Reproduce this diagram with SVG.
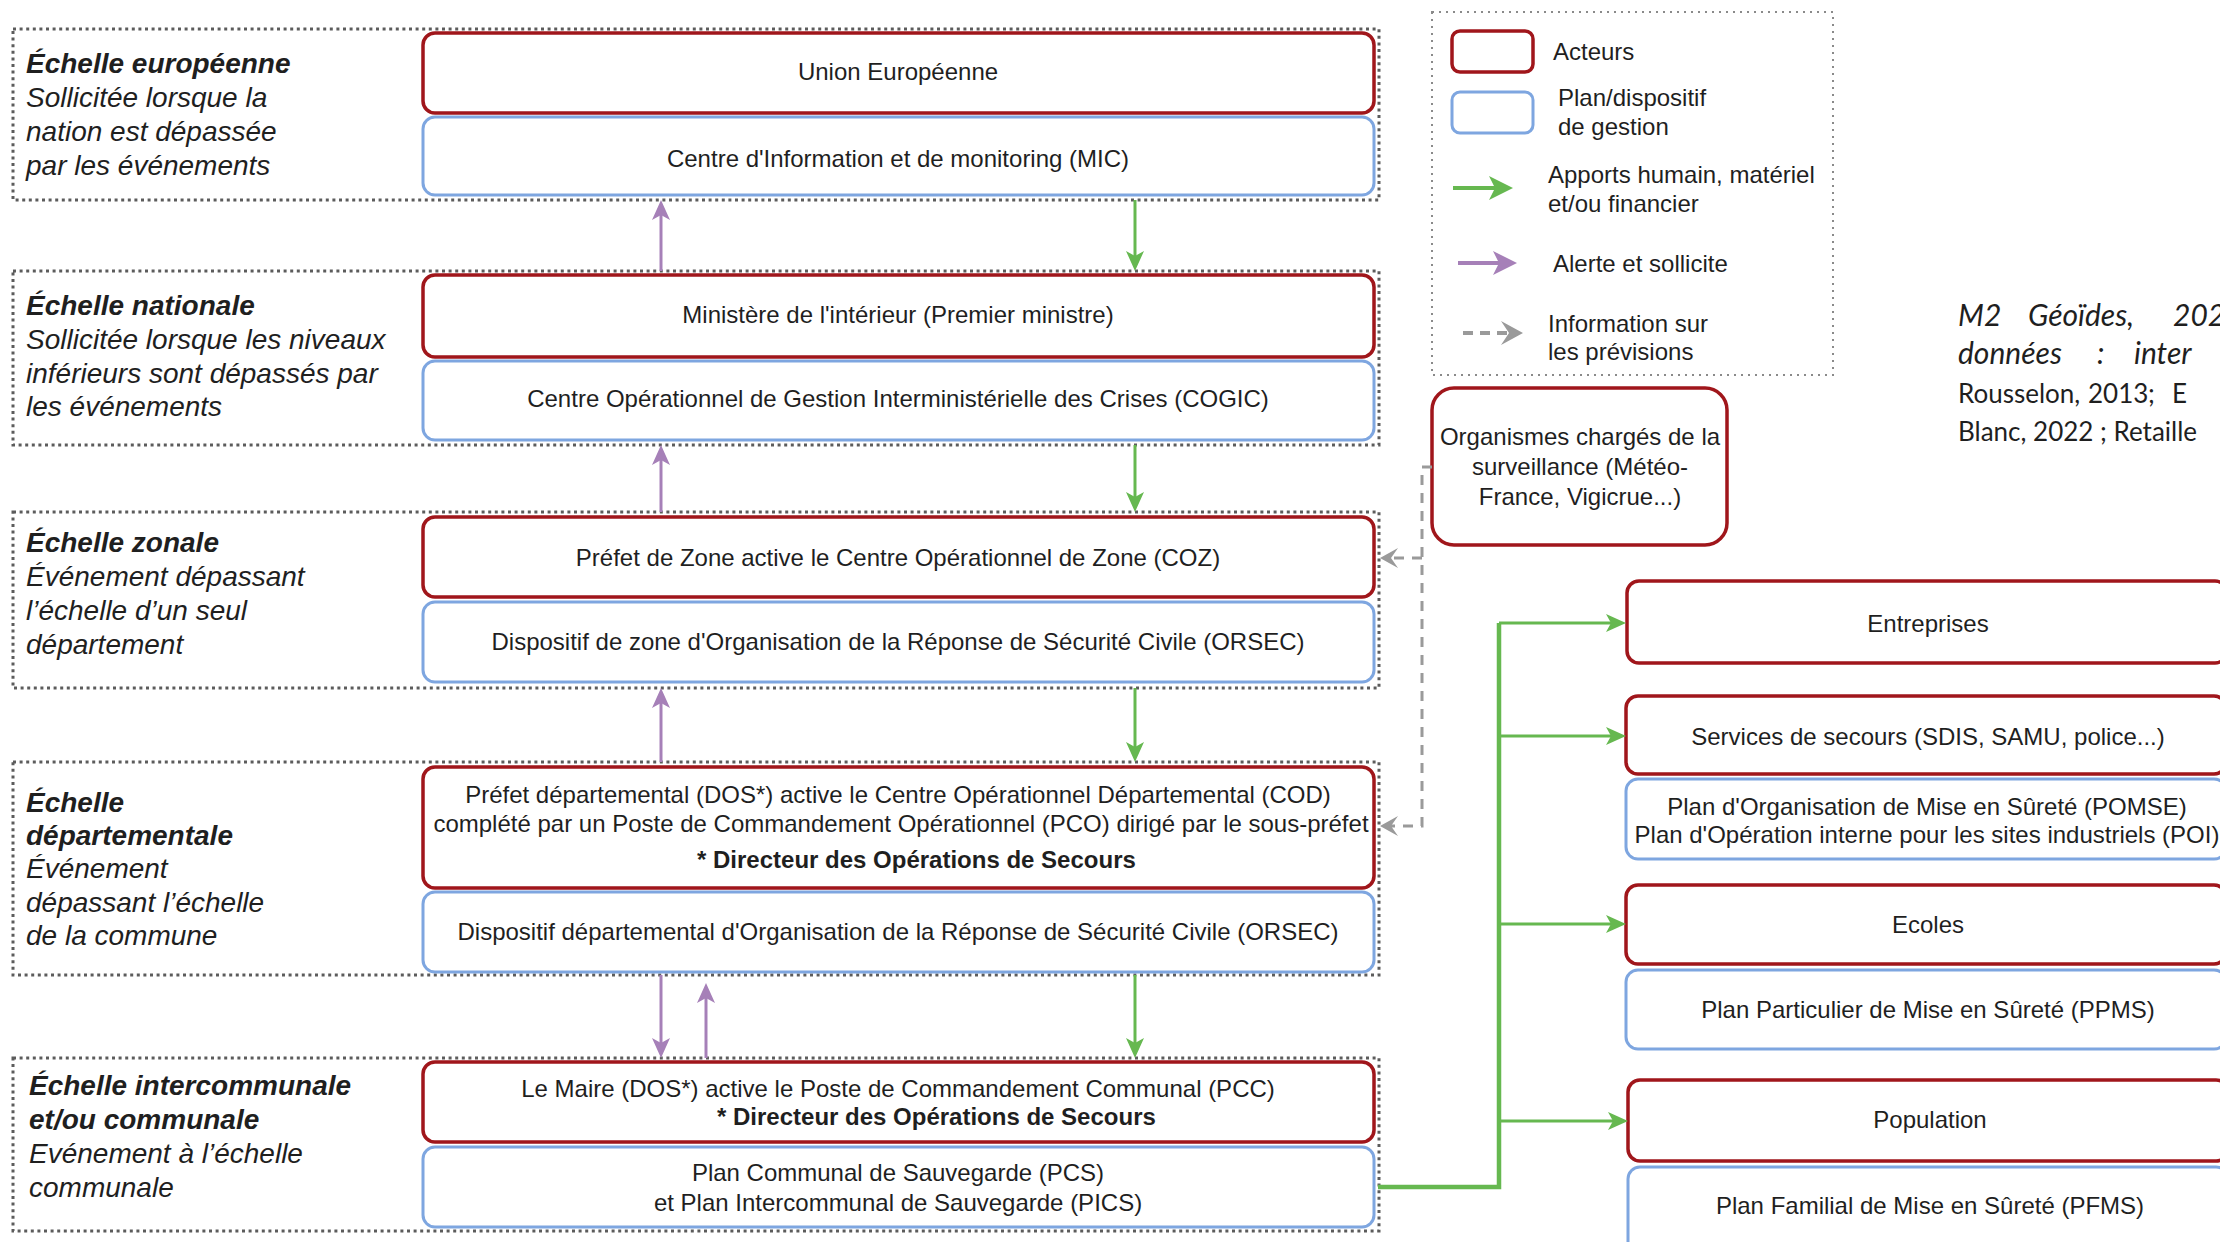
<svg xmlns="http://www.w3.org/2000/svg" width="2220" height="1242" viewBox="0 0 2220 1242">
  <style>
    .grp { fill: none; stroke: #5c5c5c; stroke-width: 3; stroke-dasharray: 3 3.6; }
    .legend-frame { fill: none; stroke: #8a8a8a; stroke-width: 2; stroke-dasharray: 2 5; }
    .actor { fill: #ffffff; stroke: #A0161B; stroke-width: 3.5; }
    .plan { fill: #ffffff; stroke: #7EA6E0; stroke-width: 3; }
    .t { font-family: "Liberation Sans", Arial, sans-serif; font-size: 24px; fill: #1f1f1f; }
    .c { text-anchor: middle; }
    .b { font-weight: bold; }
    .lt { font-family: "Liberation Sans", Arial, sans-serif; font-size: 28px; font-style: italic; fill: #1f1f1f; }
    .lt .h { font-weight: bold; }
    .alert { fill: none; stroke: #A680B8; stroke-width: 3; marker-end: url(#head-alert); }
    .supply { fill: none; stroke: #66B850; stroke-width: 3; marker-end: url(#head-supply); }
    .trunk { fill: none; stroke: #66B850; stroke-width: 4.5; }
    .info { fill: none; stroke: #9a9a9a; stroke-width: 3; stroke-dasharray: 10 8; }
    .info-end { marker-end: url(#head-info); }
    .key-supply { fill: none; stroke: #66B850; stroke-width: 4; marker-end: url(#key-head-supply); }
    .key-alert { fill: none; stroke: #A680B8; stroke-width: 4; marker-end: url(#key-head-alert); }
    .key-info { fill: none; stroke: #9a9a9a; stroke-width: 4; stroke-dasharray: 10 7; marker-end: url(#key-head-info); }
    .cite { font-family: Lato, "Open Sans", sans-serif; font-size: 26px; fill: #1f1f1f; }
    .cite-i { font-family: Lato, "Open Sans", sans-serif; font-size: 30px; font-style: italic; fill: #1f1f1f; }
  </style>
  <defs>
    <marker id="head-alert" viewBox="0 0 20 18" refX="14" refY="9" markerWidth="20" markerHeight="18" orient="auto" markerUnits="userSpaceOnUse">
      <path d="M0,0 L20,9 L0,18 L5,9 z" fill="#A680B8"/>
    </marker>
    <marker id="head-supply" viewBox="0 0 20 18" refX="14" refY="9" markerWidth="20" markerHeight="18" orient="auto" markerUnits="userSpaceOnUse">
      <path d="M0,0 L20,9 L0,18 L5,9 z" fill="#66B850"/>
    </marker>
    <marker id="head-info" viewBox="0 0 18 20" refX="12" refY="10" markerWidth="18" markerHeight="20" orient="auto" markerUnits="userSpaceOnUse">
      <path d="M0,0 L18,10 L0,20 L7,10 z" fill="#9a9a9a"/>
    </marker>
    <marker id="key-head-supply" viewBox="0 0 24 24" refX="16" refY="12" markerWidth="24" markerHeight="24" orient="auto" markerUnits="userSpaceOnUse">
      <path d="M0,0 L24,12 L0,24 L6,12 z" fill="#66B850"/>
    </marker>
    <marker id="key-head-alert" viewBox="0 0 24 24" refX="16" refY="12" markerWidth="24" markerHeight="24" orient="auto" markerUnits="userSpaceOnUse">
      <path d="M0,0 L24,12 L0,24 L6,12 z" fill="#A680B8"/>
    </marker>
    <marker id="key-head-info" viewBox="0 0 22 24" refX="14" refY="12" markerWidth="22" markerHeight="24" orient="auto" markerUnits="userSpaceOnUse">
      <path d="M0,0 L22,12 L0,24 L8,12 z" fill="#9a9a9a"/>
    </marker>
  </defs>

  <rect width="2220" height="1242" fill="#ffffff"/>

  <!-- Scale bands (dotted frames with their captions) -->
  <g id="scale-europe">
    <rect class="grp" x="13" y="29" width="1366" height="171"/>
    <text class="lt" x="26" y="73"><tspan class="h">Échelle européenne</tspan><tspan x="26" y="107">Sollicitée lorsque la</tspan><tspan x="26" y="141">nation est dépassée</tspan><tspan x="26" y="175">par les événements</tspan></text>
  </g>
  <g id="scale-nation">
    <rect class="grp" x="13" y="271" width="1366" height="174"/>
    <text class="lt" x="26" y="315"><tspan class="h">Échelle nationale</tspan><tspan x="26" y="349">Sollicitée lorsque les niveaux</tspan><tspan x="26" y="383">inférieurs sont dépassés par</tspan><tspan x="26" y="416">les événements</tspan></text>
  </g>
  <g id="scale-zone">
    <rect class="grp" x="13" y="512" width="1366" height="176"/>
    <text class="lt" x="26" y="552"><tspan class="h">Échelle zonale</tspan><tspan x="26" y="586">Événement dépassant</tspan><tspan x="26" y="620">l’échelle d’un seul</tspan><tspan x="26" y="654">département</tspan></text>
  </g>
  <g id="scale-departement">
    <rect class="grp" x="13" y="762" width="1366" height="213"/>
    <text class="lt" x="26" y="812"><tspan class="h">Échelle</tspan><tspan class="h" x="26" y="845">départementale</tspan><tspan x="26" y="878">Événement</tspan><tspan x="26" y="912">dépassant l’échelle</tspan><tspan x="26" y="945">de la commune</tspan></text>
  </g>
  <g id="scale-commune">
    <rect class="grp" x="13" y="1058" width="1366" height="173"/>
    <text class="lt" x="29" y="1095"><tspan class="h">Échelle intercommunale</tspan><tspan class="h" x="29" y="1129">et/ou communale</tspan><tspan x="29" y="1163">Evénement à l’échelle</tspan><tspan x="29" y="1197">communale</tspan></text>
  </g>

  <!-- Central column: actors (red) and plans (blue) -->
  <g id="ue">
    <rect class="actor" x="423" y="33" width="951" height="80" rx="12"/>
    <text class="t c" x="898" y="80">Union Européenne</text>
  </g>
  <g id="mic">
    <rect class="plan" x="423" y="117" width="951" height="78" rx="12"/>
    <text class="t c" x="898" y="167">Centre d'Information et de monitoring (MIC)</text>
  </g>
  <g id="ministere">
    <rect class="actor" x="423" y="275" width="951" height="82" rx="12"/>
    <text class="t c" x="898" y="323">Ministère de l'intérieur (Premier ministre)</text>
  </g>
  <g id="cogic">
    <rect class="plan" x="423" y="361" width="951" height="79" rx="12"/>
    <text class="t c" x="898" y="407">Centre Opérationnel de Gestion Interministérielle des Crises (COGIC)</text>
  </g>
  <g id="prefet-zone">
    <rect class="actor" x="423" y="517" width="951" height="80" rx="12"/>
    <text class="t c" x="898" y="566">Préfet de Zone active le Centre Opérationnel de Zone (COZ)</text>
  </g>
  <g id="orsec-zone">
    <rect class="plan" x="423" y="602" width="951" height="80" rx="12"/>
    <text class="t c" x="898" y="650">Dispositif de zone d'Organisation de la Réponse de Sécurité Civile (ORSEC)</text>
  </g>
  <g id="prefet-dep">
    <rect class="actor" x="423" y="767" width="951" height="121" rx="12"/>
    <text class="t c" x="898" y="803">Préfet départemental (DOS*) active le Centre Opérationnel Départemental (COD)</text>
    <text class="t c" x="901" y="832">complété par un Poste de Commandement Opérationnel (PCO) dirigé par le sous-préfet</text>
    <text class="t b" x="697" y="868">* Directeur des Opérations de Secours</text>
  </g>
  <g id="orsec-dep">
    <rect class="plan" x="423" y="892" width="951" height="80" rx="12"/>
    <text class="t c" x="898" y="940">Dispositif départemental d'Organisation de la Réponse de Sécurité Civile (ORSEC)</text>
  </g>
  <g id="maire">
    <rect class="actor" x="423" y="1062" width="951" height="80" rx="12"/>
    <text class="t c" x="898" y="1097">Le Maire (DOS*) active le Poste de Commandement Communal (PCC)</text>
    <text class="t b" x="717" y="1125">* Directeur des Opérations de Secours</text>
  </g>
  <g id="pcs">
    <rect class="plan" x="423" y="1147" width="951" height="80" rx="12"/>
    <text class="t c" x="898" y="1181">Plan Communal de Sauvegarde (PCS)</text>
    <text class="t c" x="898" y="1211">et Plan Intercommunal de Sauvegarde (PICS)</text>
  </g>

  <!-- Monitoring bodies -->
  <g id="surveillance">
    <rect class="actor" x="1432" y="388" width="295" height="157" rx="22"/>
    <text class="t c" x="1580" y="445">Organismes chargés de la</text>
    <text class="t c" x="1580" y="475">surveillance (Météo-</text>
    <text class="t c" x="1580" y="505">France, Vigicrue...)</text>
  </g>

  <!-- Local stakeholders -->
  <g id="entreprises">
    <rect class="actor" x="1627" y="581" width="600" height="82" rx="12"/>
    <text class="t c" x="1928" y="632">Entreprises</text>
  </g>
  <g id="secours">
    <rect class="actor" x="1626" y="696" width="600" height="78" rx="12"/>
    <text class="t c" x="1928" y="745">Services de secours (SDIS, SAMU, police...)</text>
  </g>
  <g id="pomse">
    <rect class="plan" x="1626" y="779" width="600" height="80" rx="12"/>
    <text class="t c" x="1927" y="815">Plan d'Organisation de Mise en Sûreté (POMSE)</text>
    <text class="t c" x="1927" y="843">Plan d'Opération interne pour les sites industriels (POI)</text>
  </g>
  <g id="ecoles">
    <rect class="actor" x="1626" y="885" width="600" height="79" rx="12"/>
    <text class="t c" x="1928" y="933">Ecoles</text>
  </g>
  <g id="ppms">
    <rect class="plan" x="1626" y="970" width="600" height="79" rx="12"/>
    <text class="t c" x="1928" y="1018">Plan Particulier de Mise en Sûreté (PPMS)</text>
  </g>
  <g id="population">
    <rect class="actor" x="1628" y="1080" width="600" height="81" rx="12"/>
    <text class="t c" x="1930" y="1128">Population</text>
  </g>
  <g id="pfms">
    <rect class="plan" x="1628" y="1167" width="600" height="90" rx="12"/>
    <text class="t c" x="1930" y="1214">Plan Familial de Mise en Sûreté (PFMS)</text>
  </g>

  <!-- Connectors -->
  <g id="connectors">
    <path class="alert" d="M661,271 V206"/>
    <path class="supply" d="M1135,200 V265"/>
    <path class="alert" d="M661,512 V451"/>
    <path class="supply" d="M1135,445 V506"/>
    <path class="alert" d="M661,762 V694"/>
    <path class="supply" d="M1135,688 V756"/>
    <path class="alert" d="M661,975 V1052"/>
    <path class="alert" d="M706,1058 V989"/>
    <path class="supply" d="M1135,975 V1052"/>

    <path class="trunk" d="M1378,1187 H1499 V623"/>
    <path class="supply" d="M1499,623 H1620"/>
    <path class="supply" d="M1499,736 H1620"/>
    <path class="supply" d="M1499,924 H1620"/>
    <path class="supply" d="M1499,1121 H1622"/>

    <path class="info info-end" d="M1432,467 H1422 V826 H1386"/>
    <path class="info info-end" d="M1422,558 H1386"/>
  </g>

  <!-- Legend -->
  <g id="legend">
    <rect class="legend-frame" x="1432" y="12" width="401" height="363"/>
    <rect class="actor" x="1452" y="31" width="81" height="41" rx="8"/>
    <text class="t" x="1553" y="60">Acteurs</text>
    <rect class="plan" x="1452" y="92" width="81" height="41" rx="8"/>
    <text class="t" x="1558" y="106">Plan/dispositif</text>
    <text class="t" x="1558" y="135">de gestion</text>
    <path class="key-supply" d="M1453,188 H1505"/>
    <text class="t" x="1548" y="183">Apports humain, matériel</text>
    <text class="t" x="1548" y="212">et/ou financier</text>
    <path class="key-alert" d="M1458,263 H1509"/>
    <text class="t" x="1553" y="272">Alerte et sollicite</text>
    <path class="key-info" d="M1463,333 H1515"/>
    <text class="t" x="1548" y="332">Information sur</text>
    <text class="t" x="1548" y="360">les prévisions</text>
  </g>

  <!-- Credits -->
  <g id="credits">
    <text class="cite-i" y="326"><tspan x="1958">M2</tspan><tspan x="2028">Géoïdes,</tspan><tspan x="2173">2022</tspan></text>
    <text class="cite-i" y="364"><tspan x="1958">données</tspan><tspan x="2097">:</tspan><tspan x="2134">inter</tspan></text>
    <text class="cite" y="403"><tspan x="1958">Rousselon,</tspan><tspan x="2088">2013</tspan><tspan x="2148">;</tspan><tspan x="2172">E</tspan></text>
    <text class="cite" y="441" x="1958">Blanc, 2022 ; Retaille</text>
  </g>
</svg>
